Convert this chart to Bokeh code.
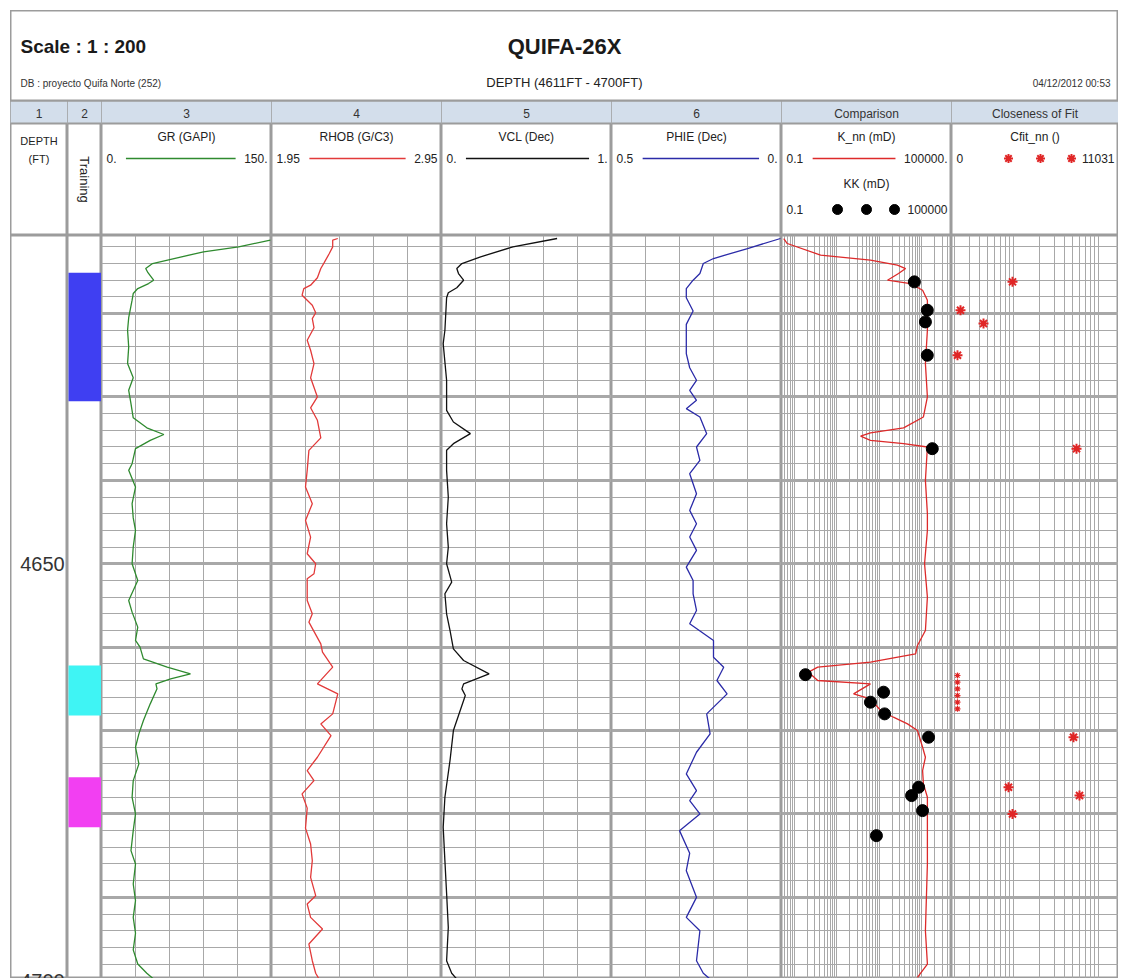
import numpy as np
from bokeh.plotting import figure
from bokeh.layouts import row, column
from bokeh.models import (Range1d, Grid, FixedTicker, SingleIntervalTicker,
                          LogScale, Spacer)
from bokeh.core.properties import value
from bokeh.embed import file_html
from bokeh.resources import INLINE

# ---------------- data ----------------
gr_depth = [4611.2, 4612, 4612.6, 4613.4, 4614, 4614.6, 4615.1, 4616, 4616.4, 4617, 4617.6, 4618.4,
            4620.5, 4622, 4624, 4626, 4627.7, 4629.2, 4630.8, 4632.5, 4633.7, 4634.5, 4635.2, 4636.2,
            4638, 4638.8, 4640.8, 4642.8, 4644.5, 4646, 4648, 4650, 4652, 4654.4, 4655.8, 4657.6,
            4659.2, 4660, 4661.4, 4662.4, 4663.2, 4663.8, 4664.4, 4665, 4666.8, 4668.8, 4670.4, 4672,
            4674, 4676, 4678, 4680, 4682, 4684.4, 4686, 4688.4, 4690.4, 4692.4, 4694.3, 4696.3, 4698,
            4699.1, 4699.8]
gr_value = [149, 121, 90, 64, 45, 39, 41, 46, 41.5, 32, 28, 27,
            24, 23, 24, 23, 28, 24, 26, 28, 40, 55, 43, 30,
            27, 24, 30, 27, 28, 30, 28, 27, 32, 24, 27, 32,
            30, 34, 37, 58, 78.5, 61, 48, 49, 43, 37, 33, 30,
            33, 28, 27, 30, 28, 26, 30, 28, 30, 28, 30, 28, 32,
            40, 46]

rhob_depth = [4611, 4611.2, 4612, 4612.8, 4613.9, 4614.6, 4615.7, 4616.6, 4617, 4617.8, 4618.4, 4619,
              4619.9, 4620.6, 4621.7, 4623.2, 4624.4, 4626, 4627.7, 4630, 4631.3, 4632.8, 4634.9, 4636.4,
              4638.8, 4640.8, 4642.8, 4644.8, 4646.8, 4648.8, 4650, 4651.2, 4651.8, 4654.4, 4656, 4657,
              4659.6, 4660.6, 4662.4, 4664.4, 4665.6, 4668, 4669.2, 4670.6, 4673.2, 4674.8, 4676, 4677.6,
              4679.3, 4681.7, 4683.6, 4685.6, 4687.6, 4689.8, 4690.8, 4692.4, 4693.8, 4695.6, 4697.6, 4699.1,
              4699.8]
rhob_value = [2.34, 2.31, 2.31, 2.29, 2.26, 2.24, 2.22, 2.18, 2.14, 2.13, 2.16, 2.19,
              2.21, 2.19, 2.20, 2.16, 2.18, 2.20, 2.18, 2.22, 2.18, 2.22, 2.24, 2.17,
              2.16, 2.15, 2.19, 2.15, 2.18, 2.16, 2.21, 2.20, 2.16, 2.16, 2.19, 2.17,
              2.24, 2.25, 2.31, 2.22, 2.34, 2.31, 2.24, 2.30, 2.22, 2.16, 2.20, 2.13,
              2.16, 2.15, 2.18, 2.19, 2.18, 2.21, 2.16, 2.18, 2.25, 2.17, 2.19, 2.21,
              2.23]

vcl_depth = [4611, 4612, 4613.2, 4614, 4614.6, 4615.2, 4616, 4616.9, 4617.5, 4618.1, 4622, 4623.6,
             4628, 4631.6, 4633, 4634.4, 4635.6, 4636.4, 4638.8, 4642, 4645.2, 4648, 4650, 4652.2,
             4653.6, 4656, 4658, 4660.2, 4661.6, 4663.2, 4664.4, 4665, 4665.8, 4667.6, 4670, 4673.6,
             4678, 4681.6, 4685.6, 4689.5, 4693.6, 4697.6, 4699.1, 4699.8]
vcl_value = [0.68, 0.42, 0.23, 0.12, 0.09, 0.10, 0.13, 0.09, 0.04, 0.03, 0.02, 0.01,
             0.03, 0.03, 0.07, 0.17, 0.07, 0.03, 0.03, 0.04, 0.03, 0.04, 0.03, 0.06,
             0.02, 0.03, 0.05, 0.07, 0.13, 0.28, 0.13, 0.12, 0.14, 0.11, 0.07, 0.05,
             0.02, 0.01, 0.02, 0.03, 0.04, 0.03, 0.06, 0.09]

phie_depth = [4611, 4612.2, 4613.4, 4614, 4615.2, 4616, 4617, 4618.1, 4619.7, 4621.3, 4622.9, 4624.8,
              4626.5, 4628, 4629.2, 4630.4, 4631.4, 4632.4, 4634.4, 4636, 4637.6, 4639.2, 4641.6, 4643.6,
              4645.2, 4646.8, 4648.4, 4650.4, 4652, 4653.6, 4655.6, 4657.2, 4659.2, 4661.2, 4662.4, 4664,
              4665.6, 4668, 4670.4, 4672.6, 4675.2, 4677.2, 4678.4, 4680, 4682, 4684.7, 4686.8, 4690,
              4692.4, 4694, 4697.6, 4699.1, 4699.8]
phie_value = [0.003, 0.10, 0.20, 0.23, 0.24, 0.26, 0.28, 0.28, 0.26, 0.28, 0.28, 0.28,
              0.27, 0.25, 0.27, 0.25, 0.28, 0.24, 0.22, 0.25, 0.24, 0.27, 0.25, 0.27,
              0.25, 0.27, 0.25, 0.28, 0.26, 0.26, 0.25, 0.27, 0.20, 0.20, 0.17, 0.19,
              0.16, 0.22, 0.21, 0.25, 0.28, 0.25, 0.27, 0.24, 0.30, 0.27, 0.28, 0.25,
              0.28, 0.24, 0.25, 0.23, 0.21]

knn_depth = [4611, 4611.6, 4613, 4613.6, 4614.2, 4614.6, 4615.2, 4616, 4616.4, 4617.2, 4618.4, 4622,
             4626, 4630, 4632.4, 4633.7, 4634.3, 4634.7, 4635.2, 4635.6, 4636, 4640, 4644, 4646,
             4650, 4654, 4658, 4659.8, 4660.8, 4661.8, 4662.4, 4663, 4664, 4664.4, 4665.6, 4666.2,
             4667.6, 4668.4, 4669.2, 4670, 4672, 4673.2, 4674.8, 4676.4, 4678, 4686, 4694, 4698, 4699.6]
knn_value = [0.12, 0.16, 2.4, 138, 1230, 2400, 1350, 550, 3550, 9550, 14100, 14100,
             12000, 14100, 10200, 2040, 138, 62, 138, 2040, 14100, 12000, 14100, 14100,
             11200, 14100, 12000, 6300, 5400, 138, 1.9, 0.9, 1.9, 138, 35, 138,
             316, 890, 2800, 6300, 9550, 12000, 9550, 10200, 14100, 14100, 12000, 14100, 6300]

kk_depth = [4616.2, 4619.6, 4621, 4625, 4636.2, 4663.3, 4665.4, 4666.6, 4668, 4670.8,
            4676.8, 4677.8, 4679.6, 4682.6]
kk_value = [4900, 14000, 12000, 14000, 21000, 0.7, 400, 138, 435, 15500,
            6900, 3900, 9500, 224]

cfit_depth = [4616.2, 4619.6, 4621.2, 4625, 4636.2, 4670.8, 4676.8, 4677.8, 4680]
cfit_value = [4030, 594, 2114, 396, 8257, 8059, 3765, 8455, 4030]
cfit_small_depth = [4663.4, 4664.2, 4665.0, 4665.8, 4666.6, 4667.4]
cfit_small_value = [396, 396, 396, 396, 396, 396]

train_top = [4615.1, 4662.2, 4675.6]
train_base = [4630.5, 4668.2, 4681.6]

depth_labels = [4650, 4700]

track_numbers = ["1", "2", "3", "4", "5", "6", "Comparison", "Closeness of Fit"]
curve_names = ["GR (GAPI)", "RHOB (G/C3)", "VCL (Dec)", "PHIE (Dec)"]
scale_left = ["0.", "1.95", "0.", "0.5"]
scale_right = ["150.", "2.95", "1.", "0."]
curve_ranges = [(0, 150), (1.95, 2.95), (0, 1), (0.5, 0)]
knn_range = (0.1, 100000)
cfit_range = (0, 11031)

# ---------------- styles / layout ----------------
FONT = value("Liberation Sans")
GRID_C = "#a8a8a8"
BORDER = "#9c9c9c"
HDR_BG = "#d3deeb"
curve_colors = ["#2f8a2f", "#e23a3a", "#111111", "#2b2ba8"]
KNN_C = "#dd2a2a"
STAR_C = "#e02626"
train_colors = ["#3f3ff2", "#3ff4f4", "#f23ff2"]

widths = [57, 34, 170, 170, 170, 170, 170, 167]
LEFT_PAD = 10
TOP_PAD = 10
TITLE_H = 91
HDR_H = 134
NUM_ROW = 22
DATA_H = 743
TOP_DEPTH = 4610.64
BOT_DEPTH = 4699.73


def make_fig(w, h, xr, yr, x_type="linear"):
    p = figure(width=w, height=h, x_range=xr, y_range=yr, x_axis_type=x_type,
               x_axis_location=None, y_axis_location=None,
               output_backend="svg", toolbar_location=None, min_border=0)
    p.center = [r for r in p.center if not isinstance(r, Grid)]
    p.outline_line_color = BORDER
    p.outline_line_width = 2
    p.background_fill_color = "white"
    p.border_fill_color = "white"
    return p


def txt(p, x, y, s, size="12px", align="center", color="#222222", style="normal", angle=0.0):
    p.text(x=[x], y=[y], text=[s], text_font=FONT, text_font_size=size,
           text_align=align, text_baseline="middle", text_color=color,
           text_font_style=style, angle=angle)


def add_hgrid(p):
    p.add_layout(Grid(dimension=1,
                      ticker=SingleIntervalTicker(interval=10, num_minor_ticks=5),
                      grid_line_color=GRID_C, grid_line_width=3,
                      minor_grid_line_color=GRID_C, minor_grid_line_width=1))


def add_lin_vgrid(p, lo, hi):
    p.add_layout(Grid(dimension=0, ticker=FixedTicker(ticks=list(np.linspace(lo, hi, 6))),
                      grid_line_color=GRID_C, grid_line_width=1))


def add_log_vgrid(p, lo, hi):
    p.extra_x_ranges = {"g": Range1d(lo, hi)}
    p.extra_x_scales = {"g": LogScale()}
    e0 = int(np.floor(np.log10(lo)))
    e1 = int(np.ceil(np.log10(hi)))
    ticks = [m * 10.0 ** e for e in range(e0, e1 + 1) for m in range(1, 10)]
    ticks = [t for t in ticks if lo <= t <= hi]
    p.add_layout(Grid(dimension=0, x_range_name="g", ticker=FixedTicker(ticks=ticks),
                      grid_line_color=GRID_C, grid_line_width=1))


def depth_range():
    return Range1d(BOT_DEPTH, TOP_DEPTH)


def header(i):
    w = widths[i]
    p = make_fig(w, HDR_H, Range1d(0, w), Range1d(HDR_H, 0))
    p.quad(left=[0], right=[w], top=[0], bottom=[NUM_ROW], fill_color=HDR_BG, line_color=None)
    p.segment(x0=[0], y0=[NUM_ROW], x1=[w], y1=[NUM_ROW], line_color=BORDER, line_width=2)
    txt(p, w / 2, NUM_ROW / 2 + 1, track_numbers[i], size="12px", color="#333333")
    return p


def legend_row(p, w, y, left, right, color=None, size=12):
    cw = size * 0.56
    txt(p, 5, y, left, size=f"{size}px", align="left")
    txt(p, w - 4, y, right, size=f"{size}px", align="right")
    if color is not None:
        x0 = 5 + len(left) * cw + 6
        x1 = w - 4 - len(right) * cw - 5
        p.segment(x0=[x0], y0=[y], x1=[x1], y1=[y], line_color=color, line_width=1.5)


Y_NAME = 35
Y_SCALE = 57
Y_NAME2 = 82
Y_SCALE2 = 108

cols = []

# --- track 1: depth ---
h1 = header(0)
txt(h1, widths[0] / 2, Y_NAME + 4, "DEPTH", size="11px")
txt(h1, widths[0] / 2, Y_SCALE, "(FT)", size="11px")
d1 = make_fig(widths[0], DATA_H, Range1d(0, 1), depth_range())
d1.text(x=[0.95] * len(depth_labels), y=depth_labels, text=[str(v) for v in depth_labels],
        text_font=FONT, text_font_size="20px", text_align="right", text_baseline="middle",
        text_color="#333333")
cols.append(column(h1, d1, spacing=0))

# --- track 2: training ---
h2 = header(1)
txt(h2, widths[1] / 2, 78, "Training", size="13px", angle=-np.pi / 2)
d2 = make_fig(widths[1], DATA_H, Range1d(0, 1), depth_range())
d2.quad(left=0.03, right=1.0, top=train_top, bottom=train_base,
        fill_color=train_colors, line_color=None)
cols.append(column(h2, d2, spacing=0))

# --- tracks 3..6: linear curves ---
curve_data = [(gr_depth, gr_value), (rhob_depth, rhob_value), (vcl_depth, vcl_value),
              (phie_depth, phie_value)]
for k in range(4):
    i = k + 2
    w = widths[i]
    h = header(i)
    txt(h, w / 2, Y_NAME, curve_names[k])
    legend_row(h, w, Y_SCALE, scale_left[k], scale_right[k], curve_colors[k])
    lo, hi = curve_ranges[k]
    d = make_fig(w, DATA_H, Range1d(lo, hi), depth_range())
    add_lin_vgrid(d, lo, hi)
    add_hgrid(d)
    dd, vv = curve_data[k]
    d.line(x=vv, y=dd, line_color=curve_colors[k], line_width=1.3)
    cols.append(column(h, d, spacing=0))

# --- comparison track ---
w = widths[6]
hc = header(6)
txt(hc, w / 2, Y_NAME, "K_nn (mD)")
legend_row(hc, w, Y_SCALE, "0.1", "100000.", KNN_C)
txt(hc, w / 2, Y_NAME2, "KK (mD)")
legend_row(hc, w, Y_SCALE2, "0.1", "100000")
hc.scatter(x=[56, 85, 113], y=[Y_SCALE2] * 3, marker="circle", size=10,
           fill_color="black", line_color="black")
dc = make_fig(w, DATA_H, Range1d(*knn_range), depth_range(), x_type="log")
add_log_vgrid(dc, 0.5, 5000)
add_hgrid(dc)
dc.line(x=knn_value, y=knn_depth, line_color=KNN_C, line_width=1.3)
dc.scatter(x=kk_value, y=kk_depth, marker="circle", size=12, fill_color="black",
           line_color="black")
cols.append(column(hc, dc, spacing=0))

# --- closeness of fit track ---
w = widths[7]
hf = header(7)
txt(hf, w / 2, Y_NAME, "Cfit_nn ()")
legend_row(hf, w, Y_SCALE, "0", "11031")
hf.scatter(x=[57, 89, 120], y=[Y_SCALE] * 3, marker="asterisk", size=9,
           line_color=STAR_C, line_width=2)
df = make_fig(w, DATA_H, Range1d(*cfit_range), depth_range())
add_log_vgrid(df, 1.86, 172)
add_hgrid(df)
df.scatter(x=cfit_value, y=cfit_depth, marker="asterisk", size=10, line_color=STAR_C,
           line_width=2)
df.scatter(x=cfit_small_value, y=cfit_small_depth, marker="asterisk", size=6,
           line_color=STAR_C, line_width=1.2)
cols.append(column(hf, df, spacing=0))

# --- title block ---
TW = sum(widths)
tp = make_fig(TW, TITLE_H, Range1d(0, TW), Range1d(TITLE_H, 0))
txt(tp, 10, 36, "Scale : 1 : 200", size="19px", align="left", color="#1a1a1a", style="bold")
txt(tp, TW / 2, 36, "QUIFA-26X", size="22px", color="#1a1a1a", style="bold")
txt(tp, 10, 73, "DB : proyecto Quifa Norte (252)", size="10px", align="left", color="#333333")
txt(tp, TW / 2, 72, "DEPTH (4611FT - 4700FT)", size="13px", color="#222222")
txt(tp, TW - 8, 73, "04/12/2012 00:53", size="10px", align="right", color="#333333")

body = column(tp, row(*cols, spacing=0), spacing=0)
layout = column(Spacer(width=10, height=TOP_PAD),
                row(Spacer(width=LEFT_PAD, height=10), body, spacing=0),
                spacing=0)

open("out.html", "w").write(file_html(layout, INLINE))
